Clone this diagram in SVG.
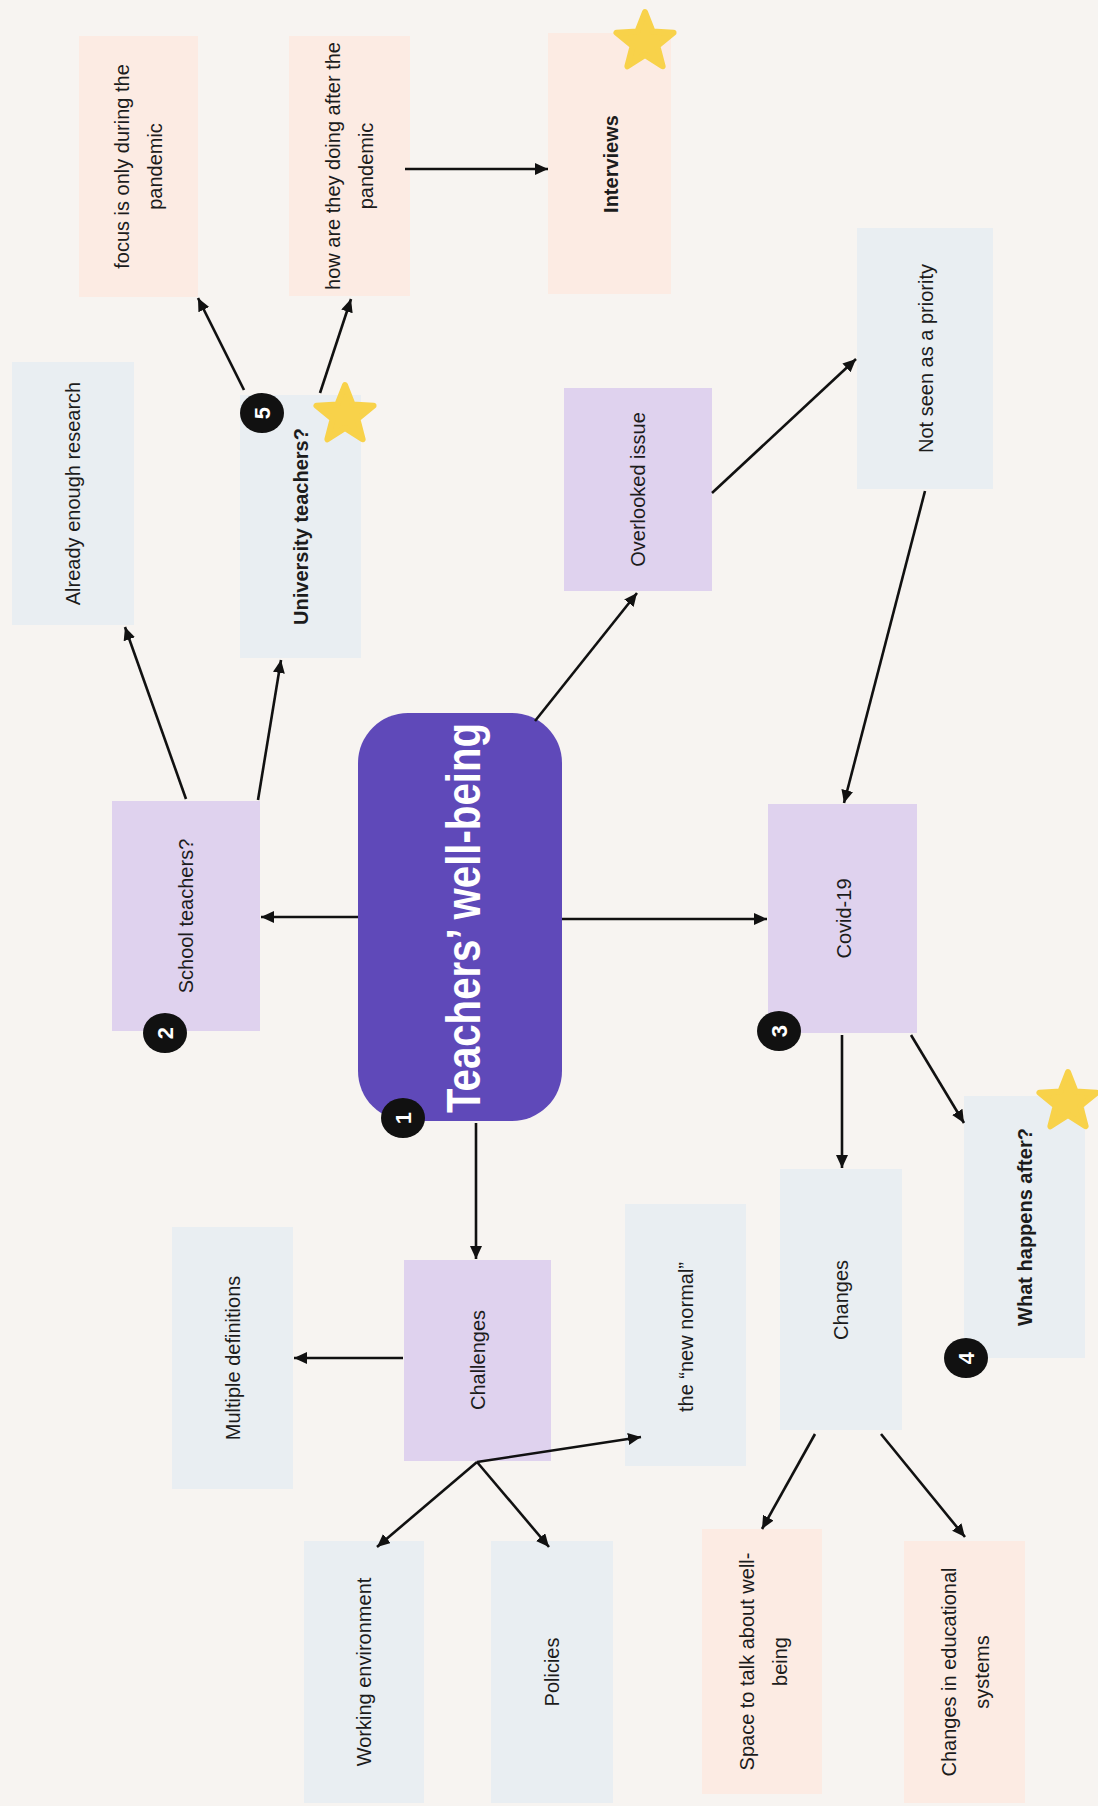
<svg xmlns="http://www.w3.org/2000/svg" width="1098" height="1806" viewBox="0 0 1098 1806">
<defs>
<style>
.bg{fill:#f7f4f1}
.pu{fill:#dfd2ee}
.gr{fill:#e9eef2}
.pe{fill:#fcebe3}
.t{font-family:"Liberation Sans",Arial,sans-serif;font-size:20px;fill:#1c1c1c;text-anchor:middle}
.b{font-weight:bold}
.title{font-family:"Liberation Sans",Arial,sans-serif;font-size:48px;font-weight:bold;fill:#ffffff;text-anchor:middle}
.badge{fill:#111}
.bn{font-family:"Liberation Sans",Arial,sans-serif;font-size:22px;font-weight:bold;fill:#fff;text-anchor:middle}
.star{fill:#f8d24a;stroke:#f8d24a;stroke-width:6;stroke-linejoin:round}
.c line{stroke:#111;stroke-width:2.6;marker-end:url(#ah)}
</style>
<marker id="ah" markerUnits="userSpaceOnUse" markerWidth="16" markerHeight="14" refX="13" refY="6" orient="auto">
<path d="M0,0 L13,6 L0,12 Z" fill="#111"/>
</marker>
<path id="starShape" d="M0,-30 L7.64,-10.52 L28.53,-9.27 L12.36,4.02 L17.63,24.27 L0,13 L-17.63,24.27 L-12.36,4.02 L-28.53,-9.27 L-7.64,-10.52 Z"/>
</defs>
<rect class="bg" x="0" y="0" width="1098" height="1806"/>

<g id="n-focus">
<rect class="pe" x="79" y="36" width="119" height="261"/>
<text class="t" transform="translate(138.5,166.5) rotate(-90)"><tspan x="0" y="-16.5" dy="0.35em">focus is only during the</tspan><tspan x="0" y="16.5" dy="0.35em">pandemic</tspan></text>
</g>
<g id="n-how">
<rect class="pe" x="289" y="36" width="121" height="260"/>
<text class="t" transform="translate(349.5,166) rotate(-90)"><tspan x="0" y="-16.5" dy="0.35em">how are they doing after the</tspan><tspan x="0" y="16.5" dy="0.35em">pandemic</tspan></text>
</g>
<g id="n-interviews">
<rect class="pe" x="548" y="33" width="123" height="261"/>
<text class="t b" transform="translate(611,164) rotate(-90)" dy="0.35em">Interviews</text>
<use href="#starShape" class="star" transform="translate(645,42)"/>
</g>
<g id="n-already">
<rect class="gr" x="12" y="362" width="122" height="263"/>
<text class="t" transform="translate(73,493.5) rotate(-90)" dy="0.35em">Already enough research</text>
</g>
<g id="n-university">
<rect class="gr" x="240" y="395" width="121" height="263"/>
<text class="t b" transform="translate(300.5,526.5) rotate(-90)" dy="0.35em">University teachers?</text>
<ellipse class="badge" cx="262" cy="413" rx="22" ry="20"/>
<text class="bn" transform="translate(262,413) rotate(-90)" dy="0.36em">5</text>
<use href="#starShape" class="star" transform="translate(345,415)"/>
</g>
<g id="n-overlooked">
<rect class="pu" x="564" y="388" width="148" height="203"/>
<text class="t" transform="translate(638,489.5) rotate(-90)" dy="0.35em">Overlooked issue</text>
</g>
<g id="n-notseen">
<rect class="gr" x="857" y="228" width="136" height="261"/>
<text class="t" transform="translate(926,358.5) rotate(-90)" dy="0.35em">Not seen as a priority</text>
</g>
<g id="n-school">
<rect class="pu" x="112" y="801" width="148" height="230"/>
<text class="t" transform="translate(186,916) rotate(-90)" dy="0.35em">School teachers?</text>
<ellipse class="badge" cx="165" cy="1033" rx="22" ry="20"/>
<text class="bn" transform="translate(165,1033) rotate(-90)" dy="0.36em">2</text>
</g>
<g id="n-central">
<rect x="358" y="713" width="204" height="408" rx="50" ry="50" fill="#5f49b9"/>
<text class="title" transform="translate(463,918) rotate(-90)" dy="0.36em" textLength="390" lengthAdjust="spacingAndGlyphs">Teachers’ well-being</text>
<ellipse class="badge" cx="403" cy="1118" rx="22" ry="20"/>
<text class="bn" transform="translate(403,1118) rotate(-90)" dy="0.36em">1</text>
</g>
<g id="n-covid">
<rect class="pu" x="768" y="804" width="149" height="229"/>
<text class="t" transform="translate(844,918.5) rotate(-90)" dy="0.35em">Covid-19</text>
<ellipse class="badge" cx="779" cy="1031" rx="22" ry="20"/>
<text class="bn" transform="translate(779,1031) rotate(-90)" dy="0.36em">3</text>
</g>
<g id="n-multiple">
<rect class="gr" x="172" y="1227" width="121" height="262"/>
<text class="t" transform="translate(232.5,1358) rotate(-90)" dy="0.35em">Multiple definitions</text>
</g>
<g id="n-challenges">
<rect class="pu" x="404" y="1260" width="147" height="201"/>
<text class="t" transform="translate(478,1360) rotate(-90)" dy="0.35em">Challenges</text>
</g>
<g id="n-newnormal">
<rect class="gr" x="625" y="1204" width="121" height="262"/>
<text class="t" transform="translate(685.5,1337) rotate(-90)" dy="0.35em">the “new normal”</text>
</g>
<g id="n-changes">
<rect class="gr" x="780" y="1169" width="122" height="261"/>
<text class="t" transform="translate(841,1300) rotate(-90)" dy="0.35em">Changes</text>
</g>
<g id="n-whathappens">
<rect class="gr" x="964" y="1096" width="121" height="262"/>
<text class="t b" transform="translate(1025,1227) rotate(-90)" dy="0.35em">What happens after?</text>
<ellipse class="badge" cx="966" cy="1358" rx="22" ry="20"/>
<text class="bn" transform="translate(966,1358) rotate(-90)" dy="0.36em">4</text>
<use href="#starShape" class="star" transform="translate(1068,1102)"/>
</g>
<g id="n-working">
<rect class="gr" x="304" y="1541" width="120" height="262"/>
<text class="t" transform="translate(364,1672) rotate(-90)" dy="0.35em">Working environment</text>
</g>
<g id="n-policies">
<rect class="gr" x="491" y="1541" width="122" height="262"/>
<text class="t" transform="translate(552,1672) rotate(-90)" dy="0.35em">Policies</text>
</g>
<g id="n-space">
<rect class="pe" x="702" y="1529" width="120" height="265"/>
<text class="t" transform="translate(763,1661.5) rotate(-90)"><tspan x="0" y="-16.5" dy="0.35em">Space to talk about well-</tspan><tspan x="0" y="16.5" dy="0.35em">being</tspan></text>
</g>
<g id="n-edu">
<rect class="pe" x="904" y="1541" width="121" height="262"/>
<text class="t" transform="translate(965,1672) rotate(-90)"><tspan x="0" y="-16.5" dy="0.35em">Changes in educational</tspan><tspan x="0" y="16.5" dy="0.35em">systems</tspan></text>
</g>

<g id="connectors" class="c">
<line x1="358" y1="917" x2="261" y2="917"/>
<line x1="562" y1="919" x2="767" y2="919"/>
<line x1="476" y1="1123" x2="476" y2="1259"/>
<line x1="535" y1="721" x2="637" y2="593"/>
<line x1="712" y1="493" x2="856" y2="359"/>
<line x1="925" y1="491" x2="844" y2="803"/>
<line x1="186" y1="799" x2="125" y2="627"/>
<line x1="258" y1="800" x2="281" y2="660"/>
<line x1="244" y1="390" x2="198" y2="298"/>
<line x1="320" y1="393" x2="351" y2="299"/>
<line x1="405" y1="169" x2="548" y2="169"/>
<line x1="842" y1="1035" x2="842" y2="1168"/>
<line x1="911" y1="1035" x2="964" y2="1123"/>
<line x1="403" y1="1358" x2="294" y2="1358"/>
<line x1="477" y1="1462" x2="377" y2="1547"/>
<line x1="477" y1="1462" x2="549" y2="1547"/>
<line x1="477" y1="1462" x2="641" y2="1437"/>
<line x1="815" y1="1434" x2="762" y2="1529"/>
<line x1="881" y1="1434" x2="965" y2="1537"/>
</g>
</svg>
